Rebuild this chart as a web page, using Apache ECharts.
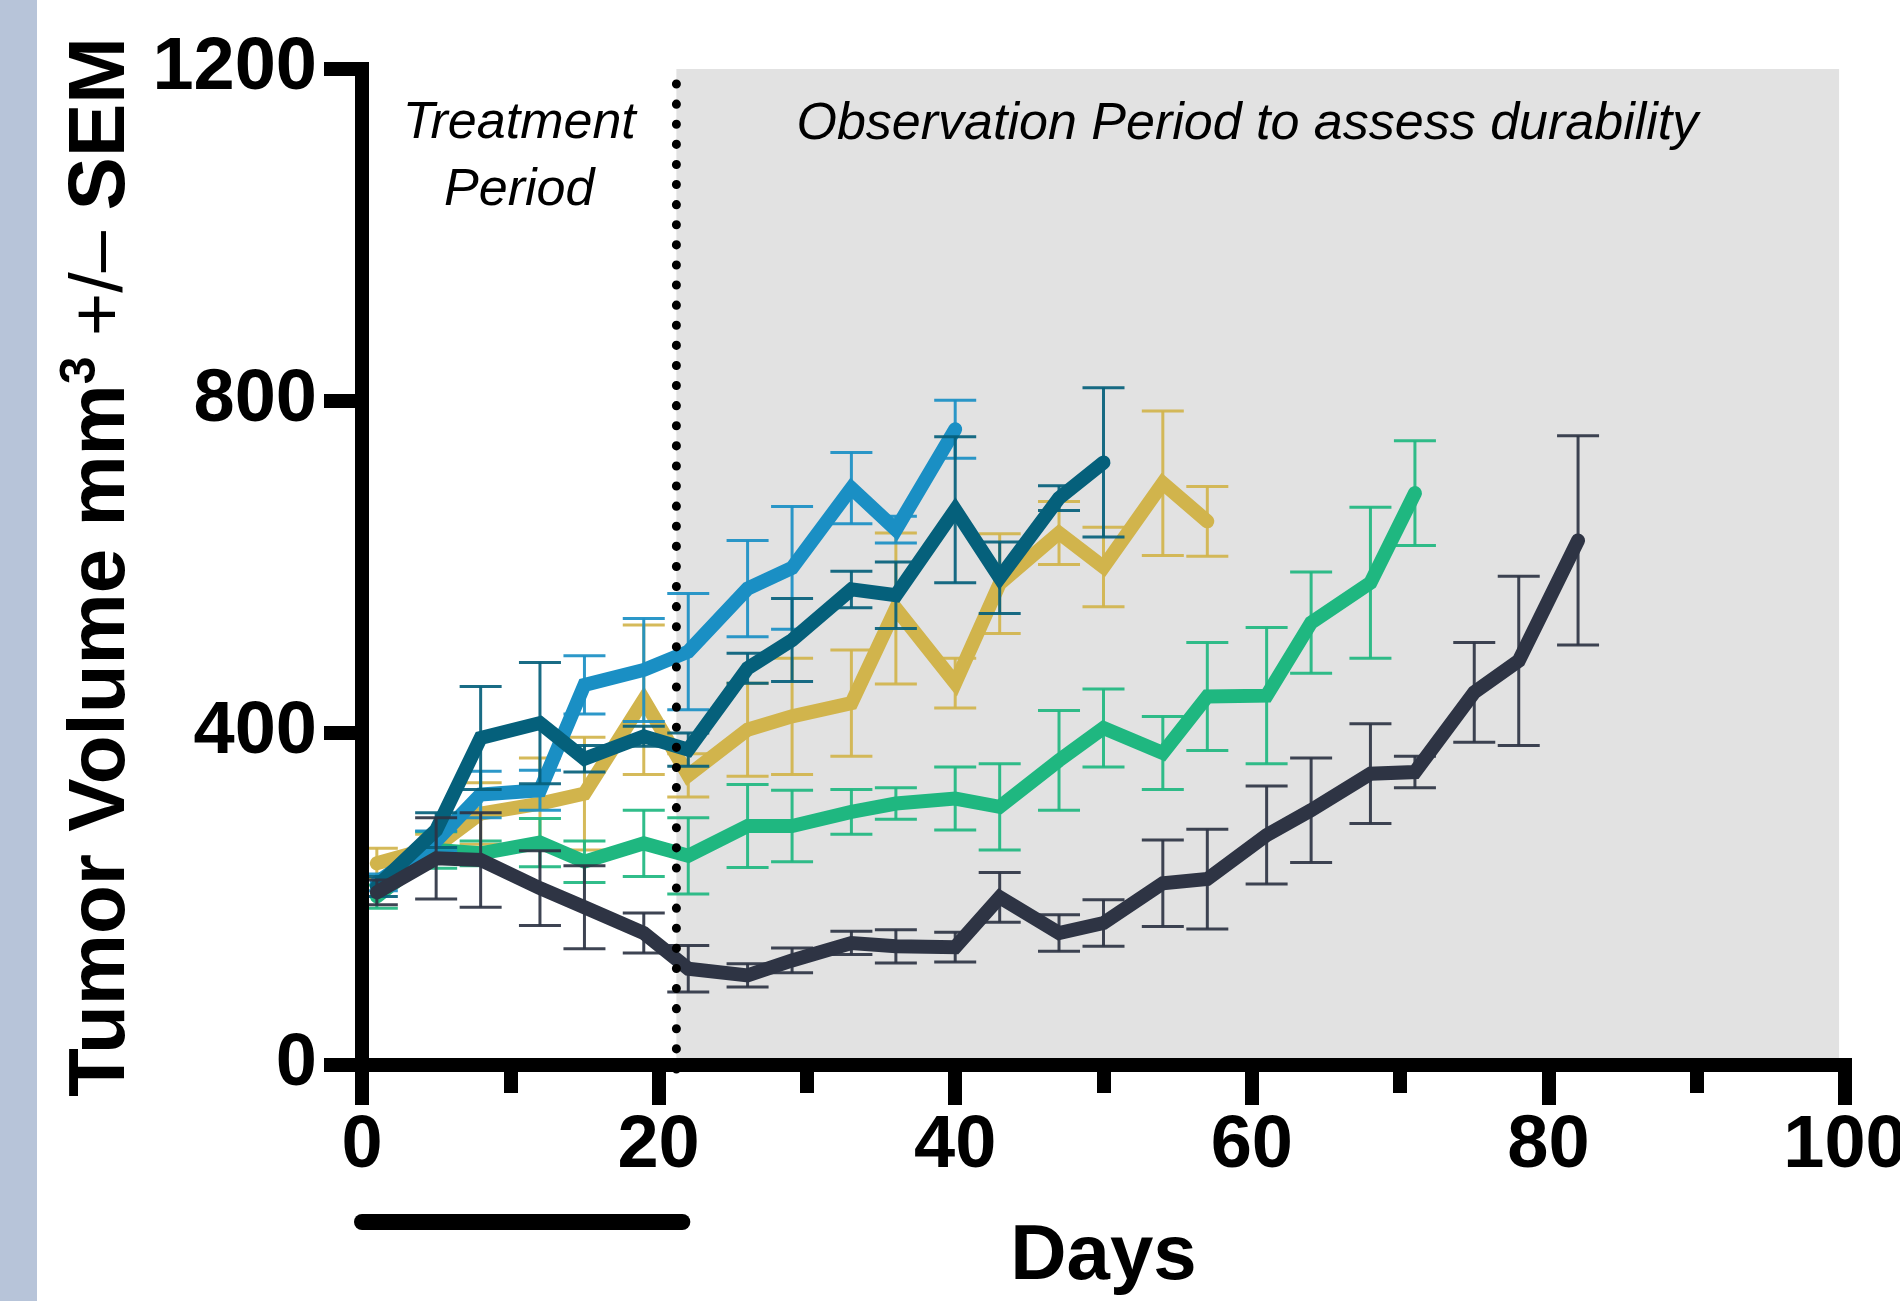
<!DOCTYPE html>
<html><head><meta charset="utf-8">
<script src="https://cdn.jsdelivr.net/npm/echarts@6/dist/echarts.min.js"></script>
<style>html,body{margin:0;padding:0;background:#fff;overflow:hidden}#c{width:1900px;height:1301px}</style>
</head><body><div id="c"></div>
<script>
// ---- data ----
const days = [1,5,8,12,15,19,22,26,29,33,36,40,43,47,50,54,57,61,64,68,71,75,78,82];

const lightBlueMean = [220,270,326,331,458,476,498,574,599,695,645,766];
const lightBlueSem  = [10,12,28,24,35,62,70,58,74,43,16,35];

const tealMean = [215,283,394,412,369,396,380,478,512,573,566,669,587,683,726];
const tealSem  = [12,21,62,73,16,12,20,18,50,22,40,88,43,15,90];

const goldMean = [243,263,303,315,327,440,349,404,420,436,550,460,580,641,600,701,655];
const goldSem  = [18,15,37,55,68,90,26,56,70,64,91,30,60,38,48,87,42];

const greenMean = [203,259,255,268,245,267,252,288,288,305,315,321,311,367,406,376,444,445,533,581,689];
const greenSem  = [14,22,15,29,25,40,46,50,43,27,19,38,52,60,47,44,65,82,61,91,63];

const navyMean = [208,249,247,213,190,159,116,108,126,147,143,142,202,159,171,219,224,277,307,351,353,449,487,632];
const navySem  = [15,49,57,45,50,24,28,14,15,14,20,18,30,22,28,52,60,59,63,60,19,60,102,126];

const xTickLabels = ['0','20','40','60','80','100'];
const yTickLabels = ['0','400','800','1200'];
const observationStart = 21.2;
const observationEnd = 99.6;
const treatmentBar = [0, 21.6];

// ---- chart ----
const FONT = "'Liberation Sans', Arial, Helvetica, sans-serif";
const groups = [
  {name:'gold', color:'#d1b44c', mean:goldMean, sem:goldSem},
  {name:'green', color:'#1fb780', mean:greenMean, sem:greenSem},
  {name:'lightblue', color:'#1a8fc4', mean:lightBlueMean, sem:lightBlueSem},
  {name:'teal', color:'#05607b', mean:tealMean, sem:tealSem},
  {name:'navy', color:'#2e3444', mean:navyMean, sem:navySem}
];

const series = [];
// gray observation area
series.push({
  type:'custom', silent:true, z:1,
  data:[[observationStart, observationEnd, 0, 1200]],
  encode:{x:[0,1], y:[2,3]},
  renderItem(params, api){
    const p1 = api.coord([api.value(0), api.value(3)]);
    const p2 = api.coord([api.value(1), api.value(2)]);
    return {type:'rect', shape:{x:p1[0], y:p1[1], width:p2[0]-p1[0], height:p2[1]-p1[1]}, style:{fill:'#e2e2e2'}};
  }
});

groups.forEach((g, gi) => {
  const errData = g.mean.map((m,i)=>[days[i], m - g.sem[i], m + g.sem[i]]);
  series.push({
    type:'custom', name:g.name+'-err', silent:true, z:3 + gi*2,
    data: errData, encode:{x:0, y:[1,2]},
    renderItem(params, api){
      const x = api.value(0);
      const pLo = api.coord([x, api.value(1)]);
      const pHi = api.coord([x, api.value(2)]);
      const hw = 21;
      const style = {stroke:g.color, lineWidth:3, opacity:0.92};
      return {type:'group', children:[
        {type:'line', shape:{x1:pLo[0], y1:pLo[1], x2:pHi[0], y2:pHi[1]}, style},
        {type:'line', shape:{x1:pHi[0]-hw, y1:pHi[1], x2:pHi[0]+hw, y2:pHi[1]}, style},
        {type:'line', shape:{x1:pLo[0]-hw, y1:pLo[1], x2:pLo[0]+hw, y2:pLo[1]}, style}
      ]};
    }
  });
  series.push({
    type:'line', name:g.name, z:4 + gi*2,
    data: g.mean.map((m,i)=>[days[i], m]),
    symbol:'none', showSymbol:false, silent:true, clip:false,
    lineStyle:{color:g.color, width:14, cap:'round', join:'miter', miterLimit:4}
  });
});

// dotted boundary line
series.push({
  type:'custom', silent:true, z:30,
  data:[[observationStart, 0, 1200]],
  encode:{x:0, y:[1,2]},
  renderItem(params, api){
    const a = api.coord([api.value(0), api.value(1)]);
    const b = api.coord([api.value(0), api.value(2)]);
    return {type:'line', shape:{x1:a[0], y1:a[1]+4, x2:b[0], y2:b[1]+4},
      style:{stroke:'#000', lineWidth:9, lineDash:[0.1,20], lineCap:'round'}};
  }
});

const chart = echarts.init(document.getElementById('c'), null, {renderer:'canvas', width:1900, height:1301});
chart.setOption({
  animation:false,
  backgroundColor:'#fff',
  grid:{left:362, right:55, top:69, bottom:236, containLabel:false, outerBoundsMode:'none'},
  xAxis:{
    type:'value', min:0, max:100, interval:20, z:50,
    name:'Days', nameLocation:'middle', nameGap:153,
    nameTextStyle:{fontFamily:FONT, fontWeight:'bold', fontSize:78, color:'#000'},
    axisLine:{show:true, lineStyle:{color:'#000', width:14, cap:'square'}},
    axisTick:{show:true, length:40, lineStyle:{color:'#000', width:14}},
    minorTick:{show:true, splitNumber:2, length:28, lineStyle:{color:'#000', width:14}},
    axisLabel:{fontFamily:FONT, fontWeight:'bold', fontSize:74, color:'#000', margin:45,
      formatter:(v)=>xTickLabels[Math.round(v/20)]},
    splitLine:{show:false}
  },
  yAxis:{
    type:'value', min:0, max:1200, interval:400, z:50,
    name:'{b|Tumor Volume mm}{s|3}{r| +/– }{b|SEM}', nameLocation:'middle', nameGap:210,
    nameTextStyle:{rich:{
      b:{fontFamily:FONT, fontWeight:'bold', fontSize:80, color:'#000', lineHeight:90},
      s:{fontFamily:FONT, fontWeight:'bold', fontSize:50, color:'#000', lineHeight:50, verticalAlign:'top'},
      r:{fontFamily:FONT, fontWeight:'normal', fontSize:74, color:'#000', lineHeight:90}
    }},
    axisLine:{show:true, lineStyle:{color:'#000', width:14, cap:'square'}},
    axisTick:{show:true, length:38, lineStyle:{color:'#000', width:14}},
    axisLabel:{fontFamily:FONT, fontWeight:'bold', fontSize:74, color:'#000', margin:45,
      formatter:(v)=>yTickLabels[Math.round(v/400)]},
    splitLine:{show:false}
  },
  series
});

function decorate(){
  const c = (p)=>chart.convertToPixel({xAxisIndex:0, yAxisIndex:0}, p);
  const b0 = c([treatmentBar[0], 0]);
  const b1 = c([treatmentBar[1], 0]);
  const top = c([0, 1200]);
  const tMid = c([(0 + observationStart)/2, 1200]);
  const oMid = c([59.7, 1200]);
  chart.setOption({graphic:[
    {type:'rect', left:0, top:0, shape:{width:37, height:1301}, style:{fill:'#b7c4d9'}, z:100},
    {type:'line', shape:{x1:b0[0], y1:b0[1]+157, x2:b1[0], y2:b1[1]+157},
      style:{stroke:'#000', lineWidth:16, lineCap:'round'}, z:100},
    {type:'text', x:tMid[0], y:top[1]+88, z:100,
      style:{text:'Treatment\nPeriod', font:"italic 52px "+FONT, fill:'#000', align:'center', verticalAlign:'middle', lineHeight:67}},
    {type:'text', x:oMid[0], y:top[1]+56, z:100,
      style:{text:'Observation Period to assess durability', font:"italic 52px "+FONT, fill:'#000', align:'center', verticalAlign:'middle'}}
  ]});
}
decorate();
</script>
</body></html>
